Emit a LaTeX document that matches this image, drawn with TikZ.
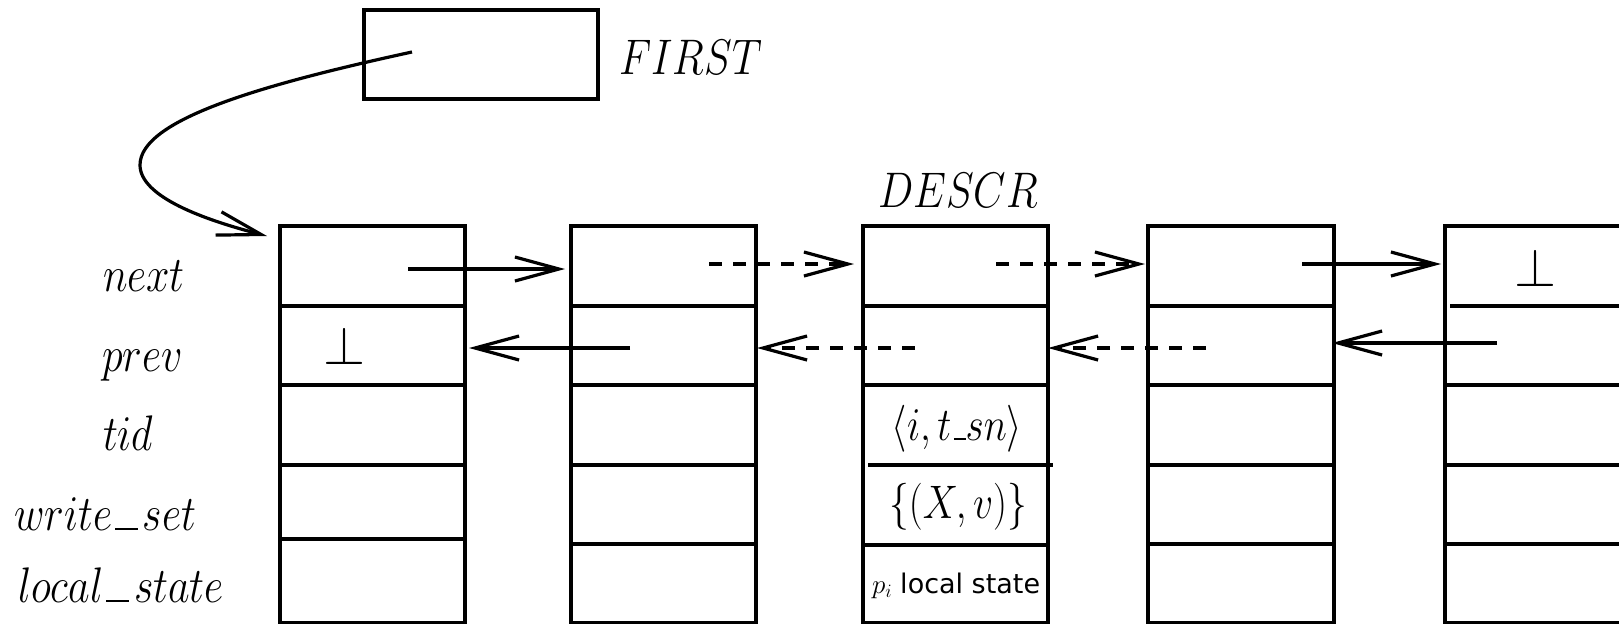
\RequirePackage{fix-cm}
\documentclass[tikz,border=0pt]{standalone}
\usepackage{fontspec}
\newfontfamily\dvs{DejaVu Sans}
\usetikzlibrary{arrows.meta}
\newcommand\usc{\kern.07em\vbox{\hrule height .045em width .54em}\kern.12em}
\newcommand\uscs{\kern.06em\vbox{\hrule height .045em width .3em}}
\begin{document}
\begin{tikzpicture}[x=1pt,y=-1pt,line width=3.2pt,
  box/.style={draw,rectangle,inner sep=0pt,outer sep=0pt,line width=3.2pt,anchor=north west},
  lab/.style={inner sep=0pt,outer sep=0pt,xscale=0.84,font=\fontsize{50}{60}\selectfont},
  cell/.style={inner sep=0pt,outer sep=0pt,xscale=0.84,font=\fontsize{47}{56}\selectfont},
  botlab/.style={inner sep=0pt,outer sep=0pt,font=\fontsize{54}{60}\selectfont},
  small/.style={inner sep=0pt,outer sep=0pt,font=\fontsize{27}{32}\selectfont},
  ptr/.style={line width=3.2pt,-{Straight Barb[length=44pt,width=24pt]}},
  dptr/.style={ptr,dash pattern=on 13pt off 11pt},
  sep/.style={line width=3.2pt}]
\clip (0,0) rectangle (1619,624);
\fill[white] (0,0) rectangle (1619,624);
% FIRST pointer box
\node[box,minimum width=234pt,minimum height=89pt] (first) at (364,10) {};
\node[lab,anchor=base west] (firstlab) at (619,74) {$FIRST$};
% columns
\node[box,minimum width=185pt,minimum height=396.5pt] (c1) at (280,226) {};
\node[box,minimum width=185pt,minimum height=396.5pt] (c2) at (571,226) {};
\node[box,minimum width=185pt,minimum height=396.5pt] (c3) at (863,226) {};
\node[box,minimum width=186pt,minimum height=396.5pt] (c4) at (1148,226) {};
\node[box,minimum width=260pt,minimum height=396.5pt] (c5) at (1445,226) {};
% row separators
\foreach \c/\last in {c1/539,c2/544,c4/544}{
  \foreach \y in {306,385,465,\last}{
    \draw[sep] (\c.west |- 0,\y) -- (\c.east |- 0,\y);
  }
}
\draw[sep] (c3.west |- 0,306) -- (c3.east |- 0,306);
\draw[sep] (c3.west |- 0,385) -- (c3.east |- 0,385);
\draw[sep] ([xshift=5pt]c3.west |- 0,465) -- ([xshift=5pt]c3.east |- 0,465);
\draw[sep] (c3.west |- 0,545) -- (c3.east |- 0,545);
\draw[sep] ([xshift=5pt]c5.west |- 0,306) -- (c5.east |- 0,306);
\foreach \y in {385,465,544}{
  \draw[sep] (c5.west |- 0,\y) -- (c5.east |- 0,\y);
}
% field labels
\node[lab,anchor=base west] (lnext) at (103,291) {$next$};
\node[lab,anchor=base west] (lprev) at (102,371) {$prev$};
\node[lab,anchor=base west] (ltid) at (103,450) {$tid$};
\node[lab,anchor=base west] (lws) at (14,530) {$write\usc set$};
\node[lab,anchor=base west] (lls) at (18,602) {$local\usc state$};
\node[lab,anchor=base] (descr) at (958,207) {$DESCR$};
% contents
\node[botlab,anchor=base] (bot1) at (344.5,364) {$\bot$};
\node[botlab,anchor=base] (bot5) at (1535.5,286) {$\bot$};
\node[cell,anchor=base] (tidv) at (957,440) {$\langle i,t\uscs sn\rangle$};
\node[cell,anchor=base] (wsv) at (958,518) {$\{(X,v)\}$};
\node[small,anchor=base west] (lsv) at (872,593) {$p_i$ {\dvs local state}};
% pointers
\coordinate (fs) at (412,52);
\coordinate (ft) at (267,236);
\draw[ptr] (fs) .. controls (260,85) and (140,120) .. (140,165)
  .. controls (140,197) and (205,220) .. (ft);
\coordinate (n1) at (408,269);
\coordinate (n2) at (709,264);
\coordinate (n3) at (996,264);
\coordinate (n4) at (1302,264);
\draw[ptr] (n1) -- ([xshift=-6pt]n1 -| c2.west);
\draw[dptr] (n2) -- ([xshift=-9pt]n2 -| c3.west);
\draw[dptr] (n3) -- ([xshift=-3pt]n3 -| c4.west);
\draw[ptr] (n4) -- ([xshift=-4pt]n4 -| c5.west);
\coordinate (p2) at (630,348);
\coordinate (p3) at (915,348);
\coordinate (p4) at (1206,348);
\coordinate (p5) at (1497,343);
\draw[ptr] (p2) -- ([xshift=4pt]p2 -| c1.east);
\draw[dptr] (p3) -- ([xshift=1pt]p3 -| c2.east);
\draw[dptr] (p4) -- ([xshift=0pt]p4 -| c3.east);
\draw[ptr] (p5) -- ([xshift=-2pt]p5 -| c4.east);
\end{tikzpicture}
\end{document}
